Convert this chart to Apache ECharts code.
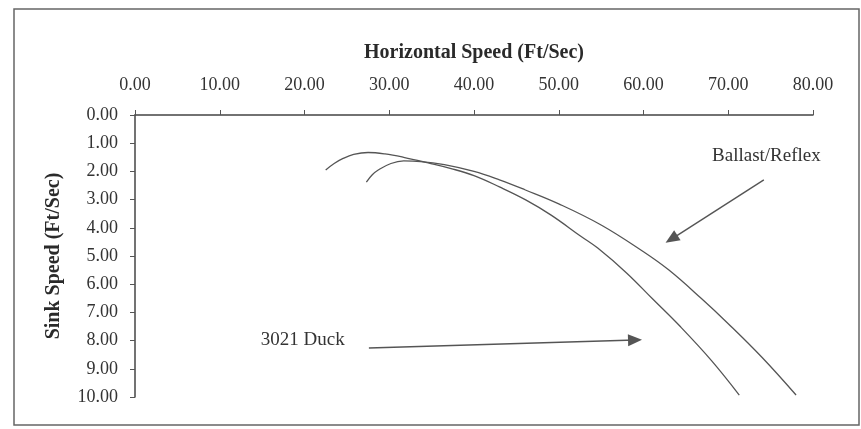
<!DOCTYPE html>
<html>
<head>
<meta charset="utf-8">
<script src="https://cdn.jsdelivr.net/npm/echarts@6/dist/echarts.min.js"></script>
<style>html,body{margin:0;padding:0;background:#fff}#c{width:861px;height:429px}</style>
</head>
<body>
<div id="c"></div>
<script>
// Horizontal speed (Ft/Sec), Sink speed (Ft/Sec)
const duckSpeed = [22.5, 23.5, 24.5, 25.8, 27.5, 29.5, 31.7, 34.6, 37.3, 40.0, 43.0, 46.1, 49.1, 52.6, 54.6, 58.0, 61.0, 64.4, 68.0, 71.3];
const duckSink  = [1.95, 1.72, 1.55, 1.40, 1.33, 1.38, 1.50, 1.70, 1.90, 2.15, 2.55, 3.01, 3.55, 4.30, 4.72, 5.60, 6.50, 7.52, 8.70, 9.93];
const ballastSpeed = [27.3, 28.0, 28.7, 30.2, 31.7, 33.7, 36.5, 40.0, 43.0, 46.0, 50.0, 55.0, 60.0, 63.0, 66.8, 70.0, 74.0, 78.0];
const ballastSink  = [2.38, 2.12, 1.95, 1.72, 1.63, 1.65, 1.76, 2.00, 2.30, 2.65, 3.15, 3.90, 4.85, 5.50, 6.50, 7.40, 8.60, 9.93];
const xTicks = [0, 10, 20, 30, 40, 50, 60, 70, 80];
const yTicks = [0, 1, 2, 3, 4, 5, 6, 7, 8, 9, 10];
// annotation labels and arrows (data coordinates)
const ballastLabel = {text: 'Ballast/Reflex', at: [74.5, 1.45], arrowFrom: [74.2, 2.30], arrowTo: [63.3, 4.40]};
const duckLabel = {text: '3021 Duck', at: [19.8, 7.98], arrowFrom: [27.6, 8.26], arrowTo: [59.0, 7.98]};

const zip = (a, b) => a.map((v, i) => [v, b[i]]);
const serif = 'Liberation Serif';
const chart = echarts.init(document.getElementById('c'));

function annotation(lab) {
  return {
    markLine: {
      silent: true, animation: false,
      symbol: ['none', 'triangle'], symbolSize: [12, 14],
      lineStyle: {color: '#555', width: 1.4, type: 'solid'},
      itemStyle: {color: '#333'},
      label: {show: false},
      data: [[{coord: lab.arrowFrom}, {coord: lab.arrowTo}]]
    },
    markPoint: {
      silent: true, animation: false,
      symbol: 'circle', symbolSize: 0,
      label: {show: true, formatter: lab.text, color: '#333', fontFamily: serif, fontSize: 19, position: 'inside'},
      data: [{coord: lab.at}]
    }
  };
}

chart.setOption({
  animation: false,
  backgroundColor: '#fff',
  grid: {left: 135, right: 48, top: 115, bottom: 32},
  xAxis: {
    type: 'value', position: 'top', min: 0, max: 80, interval: 10,
    name: 'Horizontal Speed (Ft/Sec)', nameLocation: 'middle', nameGap: 52,
    nameTextStyle: {fontFamily: serif, fontWeight: 'bold', fontSize: 20, color: '#2a2a2a'},
    axisLine: {lineStyle: {color: '#444', width: 1.5}},
    axisTick: {show: true, inside: false, length: 5, lineStyle: {color: '#555'}},
    axisLabel: {fontFamily: serif, fontSize: 18, color: '#333', margin: 21,
      formatter: v => xTicks.includes(v) ? v.toFixed(2) : ''},
    splitLine: {show: false}
  },
  yAxis: {
    type: 'value', inverse: true, min: 0, max: 10, interval: 1,
    name: 'Sink Speed (Ft/Sec)', nameLocation: 'middle', nameGap: 71, nameRotate: 90,
    nameTextStyle: {fontFamily: serif, fontWeight: 'bold', fontSize: 20, color: '#2a2a2a'},
    axisLine: {lineStyle: {color: '#444', width: 1.5}},
    axisTick: {show: true, length: 5, lineStyle: {color: '#555'}},
    axisLabel: {fontFamily: serif, fontSize: 18, color: '#333', margin: 17,
      formatter: v => yTicks.includes(v) ? v.toFixed(2) : ''},
    splitLine: {show: false}
  },
  graphic: [{
    type: 'rect', silent: true, z: -1,
    shape: {x: 14, y: 9, width: 845, height: 416},
    style: {fill: 'none', stroke: '#666', lineWidth: 1.5}
  }],
  series: [
    Object.assign({
      name: '3021 Duck', type: 'line', data: zip(duckSpeed, duckSink),
      smooth: 0.4, showSymbol: false, symbol: 'none',
      lineStyle: {color: '#555', width: 1.3}
    }, annotation(duckLabel)),
    Object.assign({
      name: 'Ballast/Reflex', type: 'line', data: zip(ballastSpeed, ballastSink),
      smooth: 0.4, showSymbol: false, symbol: 'none',
      lineStyle: {color: '#555', width: 1.3}
    }, annotation(ballastLabel))
  ]
});
</script>
</body>
</html>
